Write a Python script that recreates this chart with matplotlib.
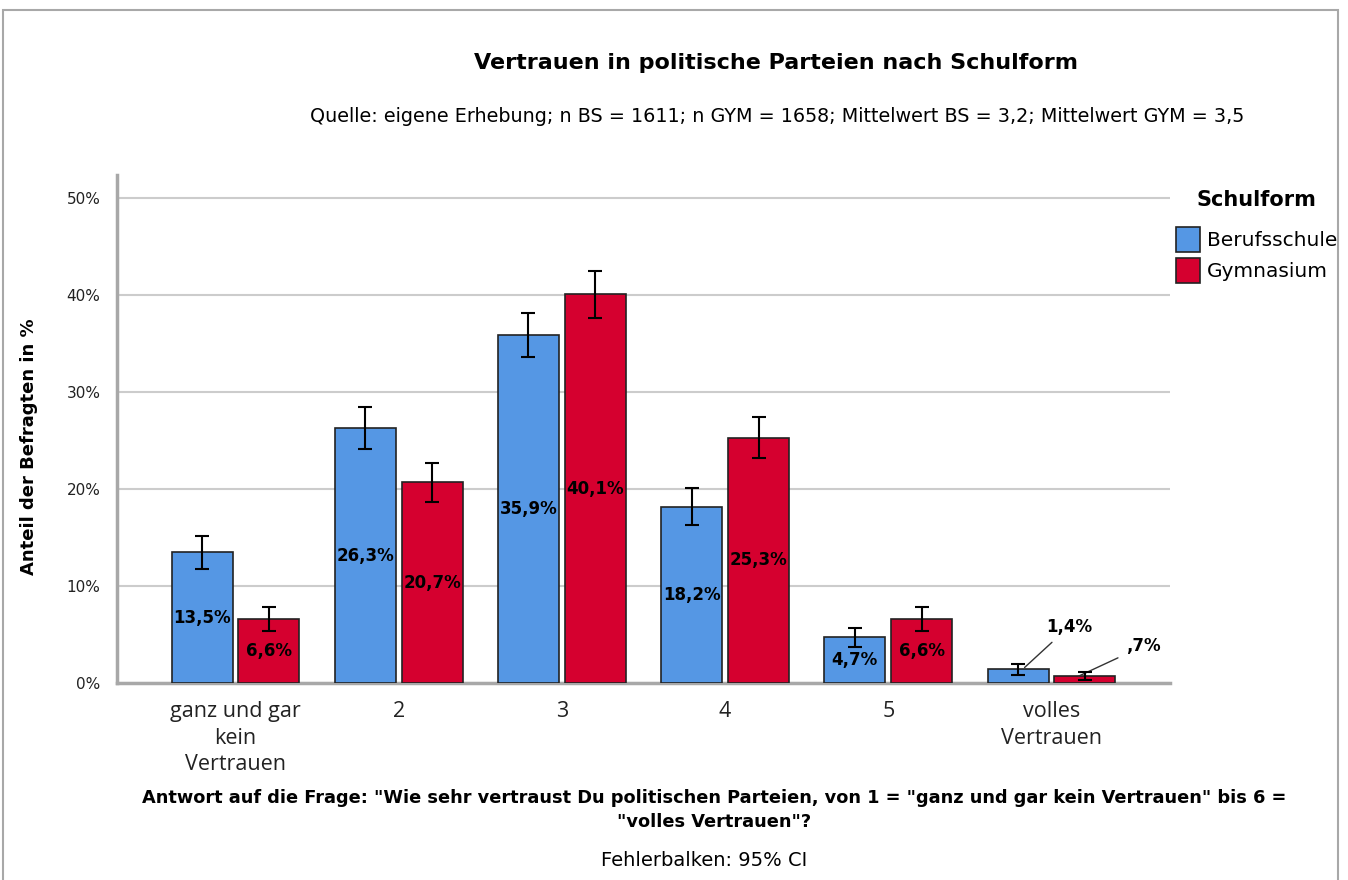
import matplotlib
matplotlib.use("Agg")
import numpy as np
import matplotlib.pyplot as plt
from matplotlib.patches import Rectangle

# data
categories = ["ganz und gar\nkein\nVertrauen", "2", "3", "4", "5", "volles\nVertrauen"]
berufsschule = [13.5, 26.3, 35.9, 18.2, 4.7, 1.4]
gymnasium = [6.6, 20.7, 40.1, 25.3, 6.6, 0.7]
err_bs = [1.7, 2.2, 2.3, 1.9, 1.0, 0.6]
err_gym = [1.2, 2.0, 2.4, 2.1, 1.2, 0.4]
series_names = ["Berufsschule", "Gymnasium"]
yticks = [0, 10, 20, 30, 40, 50]

blue = "#5597e4"
red = "#d5002f"


def fmt(v):
    s = f"{v:.1f}".replace(".", ",")
    if s.startswith("0"):
        s = s[1:]
    return s + "%"


plt.rcParams["font.family"] = ["DejaVu Sans"]
fig = plt.figure(figsize=(13.48, 8.8), dpi=100)
fig.patches.append(Rectangle((3 / 1348, -0.1), 1335 / 1348, 1.1 - 10 / 880,
                             transform=fig.transFigure, fill=False,
                             edgecolor="#a8a8a8", linewidth=1.5))

ax = fig.add_axes([117 / 1348, 1 - 683 / 880, (1170 - 117) / 1348, (683 - 175) / 880])
x = np.arange(len(categories))
w = 0.374
off = 0.205
ekw = dict(ecolor="black", elinewidth=1.5, capthick=1.5)
b1 = ax.bar(x - off, berufsschule, w, color=blue, edgecolor="#222222", linewidth=1.2,
            yerr=err_bs, capsize=5, error_kw=ekw, zorder=3, label=series_names[0])
b2 = ax.bar(x + off, gymnasium, w, color=red, edgecolor="#222222", linewidth=1.2,
            yerr=err_gym, capsize=5, error_kw=ekw, zorder=3, label=series_names[1])

for xs, vals in [(x - off, berufsschule), (x + off, gymnasium)]:
    for xi, v in zip(xs, vals):
        if v >= 3:
            ax.text(xi, v / 2, fmt(v), ha="center", va="center", fontsize=12,
                    fontweight="bold", color="black", zorder=5)

# small bars: labels outside with leader lines
ax.annotate(fmt(berufsschule[5]), xy=(x[5] - off + 0.04, berufsschule[5] + 0.2),
            xytext=(x[5] - off + 0.17, 5.8), fontsize=12, fontweight="bold",
            ha="left", va="center",
            arrowprops=dict(arrowstyle="-", color="#333333", lw=1.0, shrinkA=4, shrinkB=0))
ax.annotate(fmt(gymnasium[5]), xy=(x[5] + off - 0.04, gymnasium[5]),
            xytext=(x[5] + off + 0.25, 3.8), fontsize=12, fontweight="bold",
            ha="left", va="center",
            arrowprops=dict(arrowstyle="-", color="#333333", lw=1.0, shrinkA=4, shrinkB=0))

ax.set_xlim(-0.726, 5.726)
ax.set_ylim(0, 52.4)
ax.set_yticks(yticks)
ax.set_yticklabels([f"{t}%" for t in yticks], fontsize=11, color="#222222")
ax.set_xticks(x)
ax.set_xticklabels(categories, fontsize=15.5, color="#222222", linespacing=1.35,
                   family=["Open Sans", "DejaVu Sans"])
ax.tick_params(axis="y", length=0, pad=12)
ax.tick_params(axis="x", length=0, pad=13)
ax.grid(axis="y", color="#cccccc", linewidth=1.5, zorder=0)
for s in ["top", "right"]:
    ax.spines[s].set_visible(False)
for s in ["left", "bottom"]:
    ax.spines[s].set_color("#a8a8a8")
    ax.spines[s].set_linewidth(2.5)

fig.text(776 / 1348, 1 - 63 / 880, "Vertrauen in politische Parteien nach Schulform",
         ha="center", va="center", fontsize=16, fontweight="bold")
fig.text(777 / 1348, 1 - 117 / 880,
         "Quelle: eigene Erhebung; n BS = 1611; n GYM = 1658; Mittelwert BS = 3,2; Mittelwert GYM = 3,5",
         ha="center", va="center", fontsize=13.8)
fig.text(29 / 1348, 1 - 447 / 880, "Anteil der Befragten in %", rotation=90,
         ha="center", va="center", fontsize=13, fontweight="bold")
fig.text(714 / 1348, 1 - 810 / 880,
         'Antwort auf die Frage: "Wie sehr vertraust Du politischen Parteien, von 1 = "ganz und gar kein Vertrauen" bis 6 =\n"volles Vertrauen"?',
         ha="center", va="center", fontsize=12.8, fontweight="bold", linespacing=1.4)
fig.text(704 / 1348, 1 - 860 / 880, "Fehlerbalken: 95% CI", ha="center", va="center",
         fontsize=14)

leg = fig.legend(handles=[b1, b2], labels=series_names, title="Schulform",
                 loc="upper left", bbox_to_anchor=(1162 / 1348, 1 - 176 / 880),
                 frameon=False, fontsize=14.5, title_fontproperties={"weight": "bold", "size": 15},
                 handlelength=1.2, handleheight=1.55, handletextpad=0.35, labelspacing=0.3,
                 borderpad=0.2)
leg._legend_box.sep = 12

fig.savefig("out.png", dpi=100)
